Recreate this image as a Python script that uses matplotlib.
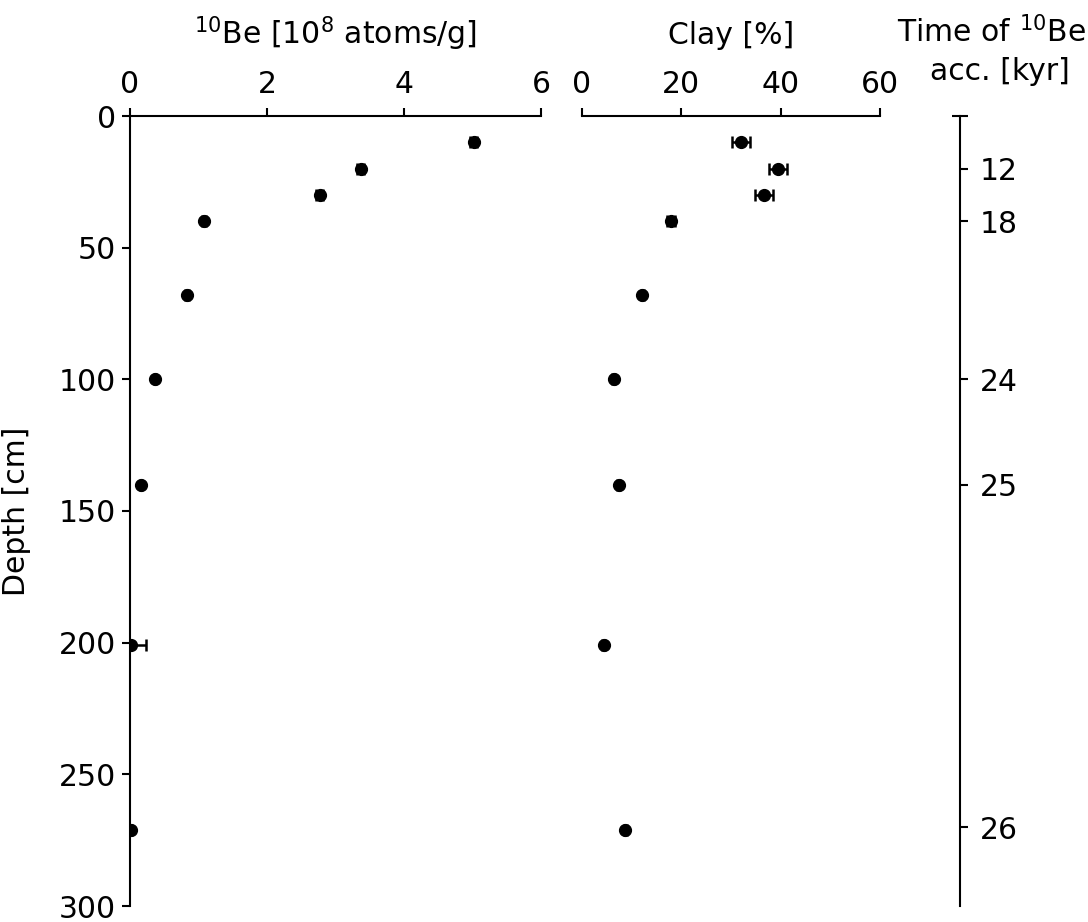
import matplotlib
matplotlib.use("Agg")
import matplotlib.pyplot as plt

plt.rcParams['font.family'] = ['DejaVu Sans']
plt.rcParams['mathtext.default'] = 'regular'

# Data
depth = [10, 20, 30, 40, 68, 100, 140, 201, 271]
be10 = [5.02, 3.37, 2.77, 1.08, 0.83, 0.365, 0.16, 0.02, 0.02]
be10_err = [0.05, 0.05, 0.05, 0.03, 0.03, 0.02, 0.02, 0.21, 0.01]
clay = [32.0, 39.5, 36.6, 17.9, 12.1, 6.4, 7.4, 4.4, 8.7]
clay_err = [1.8, 1.8, 1.8, 0.8, 0.3, 0.3, 0.3, 0.3, 0.3]
time_depths = [20, 40, 100, 140, 270]
time_labels = ['12', '18', '24', '25', '26']

FS = 21.5
W, H = 1088, 922
fig = plt.figure(figsize=(W / 100, H / 100), dpi=100)

def fx(px):
    return px / W

top_px, bot_px = 116, 906
bottom = 1 - bot_px / H
height = (bot_px - top_px) / H

# Be axis
ax1 = fig.add_axes([fx(130), bottom, fx(541 - 130), height])
ax1.errorbar(be10, depth, xerr=be10_err, fmt='o', color='black', ms=8.5,
             elinewidth=1.8, capsize=4, capthick=1.8)
ax1.set_xlim(0, 6)
ax1.set_ylim(300, 0)
ax1.xaxis.set_ticks_position('top')
ax1.xaxis.set_label_position('top')
ax1.set_xticks([0, 2, 4, 6])
ax1.set_yticks([0, 50, 100, 150, 200, 250, 300])
for s in ['right', 'bottom']:
    ax1.spines[s].set_visible(False)
for s in ['top', 'left']:
    ax1.spines[s].set_linewidth(1.5)
ax1.tick_params(axis='x', direction='out', length=6, width=1.5, labelsize=FS, pad=6)
ax1.tick_params(axis='y', direction='out', length=6, width=1.5, labelsize=FS, pad=4)
ax1.set_xlabel(r'$^{10}$Be [10$^{8}$ atoms/g]', fontsize=FS, labelpad=19)
ax1.set_ylabel('Depth [cm]', fontsize=FS, labelpad=20)
ax1.patch.set_visible(False)

# Clay axis
ax2 = fig.add_axes([fx(582), bottom, fx(880 - 582), height])
ax2.errorbar(clay, depth, xerr=clay_err, fmt='o', color='black', ms=8.5,
             elinewidth=1.8, capsize=4, capthick=1.8)
ax2.set_xlim(0, 60)
ax2.set_ylim(300, 0)
ax2.xaxis.set_ticks_position('top')
ax2.xaxis.set_label_position('top')
ax2.set_xticks([0, 20, 40, 60])
ax2.set_yticks([])
for s in ['right', 'bottom', 'left']:
    ax2.spines[s].set_visible(False)
ax2.spines['top'].set_linewidth(1.5)
ax2.tick_params(axis='x', direction='out', length=6, width=1.5, labelsize=FS, pad=6)
ax2.set_xlabel('Clay [%]', fontsize=FS, labelpad=19)
ax2.patch.set_visible(False)

# Time axis
ax3 = fig.add_axes([fx(940), bottom, fx(20), height])
ax3.set_ylim(300, 0)
ax3.set_xlim(0, 1)
ax3.set_xticks([])
for s in ['left', 'bottom', 'top']:
    ax3.spines[s].set_visible(False)
ax3.spines['right'].set_linewidth(1.5)
ax3.yaxis.set_ticks_position('right')
ax3.set_yticks(time_depths)
ax3.set_yticklabels(time_labels)
ax3.set_yticks([0], minor=True)
ax3.tick_params(axis='y', which='major', direction='out', length=6, width=1.5,
                labelsize=FS, pad=8)
ax3.tick_params(axis='y', which='minor', direction='inout', length=12, width=1.5)
ax3.patch.set_visible(False)
fig.text(fx(1086), 1 - 32 / H, 'Time of $^{10}$Be', fontsize=FS, ha='right', va='center')
fig.text(fx(1000), 1 - 72 / H, 'acc. [kyr]', fontsize=FS, ha='center', va='center')

fig.savefig('out.png', dpi=100)
